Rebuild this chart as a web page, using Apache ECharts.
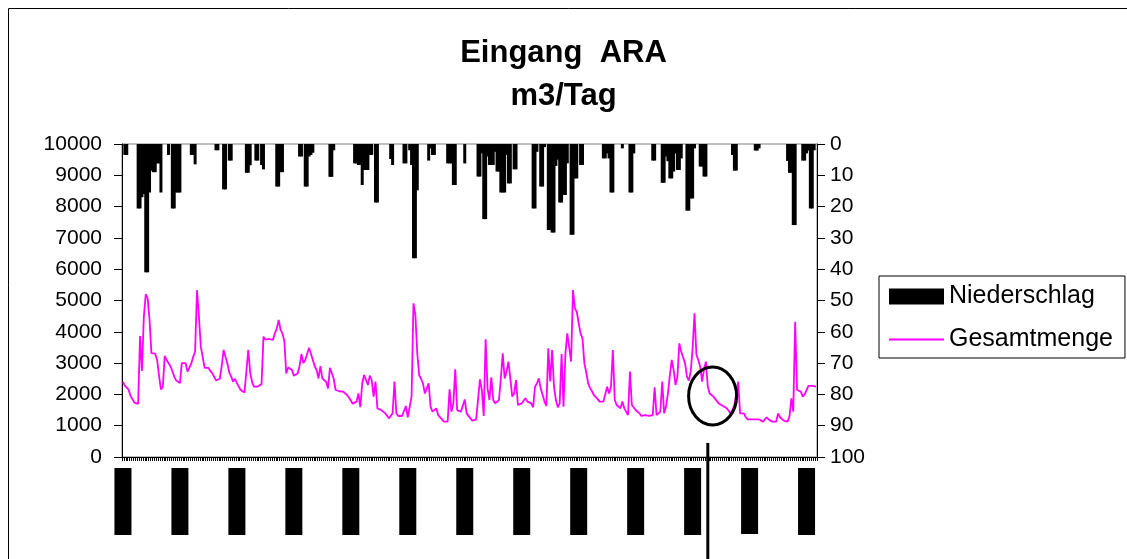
<!DOCTYPE html>
<html>
<head>
<meta charset="utf-8">
<script src="https://cdn.jsdelivr.net/npm/echarts@6/dist/echarts.min.js"></script>
<style>
html,body{margin:0;padding:0;background:#fff;}
#c{width:1127px;height:559px;}
</style>
</head>
<body>
<div id="c"></div>
<script>
// ---- data ----
var titleText = 'Eingang  ARA\nm3/Tag';
var seriesNames = ['Niederschlag', 'Gesamtmenge'];
var startDate = [2004, 0, 1];
var dayCount = 366;
var leftTicks = [0, 10000, 1000];
var rightTicks = [0, 100, 10];

var gesamtmenge = [
2400,2280,2300,2150,1950,1850,1740,1700,1700,3865,
2750,4480,5200,5070,4380,3320,3320,3300,3100,2600,
2160,2240,3230,3100,3000,2900,2750,2570,2450,2410,
2360,3000,3050,3000,2730,2730,2990,3200,3370,5330,
4500,3525,3200,2850,2790,2850,2750,2680,2570,2450,
2410,2500,2900,3420,3200,2990,2700,2570,2410,2500,
2360,2250,2140,2100,2060,2040,3420,2700,2400,2250,
2250,2250,2300,2330,3845,3750,3770,3770,3740,3740,
3950,4100,4380,4060,3950,3700,2670,2860,2820,2780,
2600,2545,2670,2900,3290,3000,3100,3130,3490,3300,
3100,2900,2780,2510,2900,2510,2540,2400,2190,2850,
2850,2500,2140,2110,2100,2090,2090,2050,1980,1900,
1850,1700,1660,1770,2030,1590,2350,2620,2650,2300,
2600,2460,1930,2410,1555,1540,1500,1480,1400,1330,
1235,1180,1395,2410,1395,1310,1310,1310,1310,1630,
1270,1310,1930,4910,4540,3300,2620,2500,2350,2030,
2200,2350,1610,1450,1395,1555,1340,1320,1200,1130,
1130,1130,2160,1450,1715,2800,1500,1450,1450,1450,
1840,1395,1340,1235,1160,1180,1200,1200,2480,2140,
1310,3760,2200,1820,2545,1820,1715,1750,1820,2500,
3310,2510,2720,3045,2510,1930,2030,2460,1660,1630,
1715,1800,1875,1770,1735,1715,1590,2245,2350,2510,
2195,2160,1770,1630,3470,2410,3420,2245,1820,1590,
1715,3290,1610,3300,3950,3900,3050,5335,4750,4640,
4270,3950,3790,2990,2700,2350,2200,2100,1980,1930,
1850,1770,1770,1770,1735,2245,2030,2245,3420,1820,
1660,1600,1555,1770,1555,1450,1340,2730,1660,1580,
1500,1450,1395,1310,1320,1340,1320,1310,1290,1340,
2225,1340,1290,1450,2410,1395,1610,2030,2600,3100,
2780,2300,2570,3630,3365,3365,3000,2570,2440,2730,
3470,4590,3260,3100,2885,2410,2800,3045,2245,2030,
1980,1930,1850,1770,1700,1660,1630,1610,1555,1555,
1395,1500,1660,1610,2410,1395,1415,1395,1270,1200,
1160,1200,1160,1200,1160,1200,1160,1130,1075,1270,
1200,1180,1130,1130,1130,1395,1270,1270,1160,1130,
1130,1290,1875,1450,4320,2140,2090,2090,1930,2000,
2140,2270,2270,2270,2270,2245
];

var niederschlag = [
0,3.5,3.5,0,0,0,0,0,20.6,20.6,
17,16,41,41,15.5,8.5,9,9,6.2,6.2,
15.5,0,0,0,3.5,0,20.6,20.6,15.5,15.5,
15.5,0,0,0,0,0,3.5,3.5,6.5,0,
0,0,0,0,0,0,0,0,0,2,
2,0,0,14.5,14.5,0,5.3,5.3,0,0,
0,0,0,0,0,9.2,9.2,6.8,0,0,
5.3,5.3,0,6.7,8.1,0,0,0,0,0,
0,13.6,13.6,9,9,0,0,0,0,0,
0,0,0,4,4,0,13.6,13.6,4,3.5,
2.8,0,0,0,0,0,0,0,0,10.5,
10.5,2,0,0,0,0,0,0,0,0,
0,0,6.2,6.2,6.7,6.7,13.1,8.3,8.3,8.3,
3.5,3.5,0,18.7,18.7,0,0,0,0,0,
0,4.8,6.7,0,0,0,0,0,6.2,6.2,
0,2,6.7,36.5,36.5,14.8,0,0,0,0,
0,5.3,1.4,3.5,3.5,0,0,0,0,0,
0,6.2,6.2,6.2,13.1,13.1,0,0,0,0,
6.2,0,0,0,0,0,0,10.4,10.4,3,
24,24,4,6.7,6.7,6.7,2.5,8.8,8.8,15.5,
15.5,15.5,3.5,12.6,12.6,0,8.1,8.1,0,0,
0,0,0,0,0,0,20.6,20.6,2.5,0,
13.6,13.6,1,0,27.5,27.5,28.3,28.3,7,5,
18.7,18.7,16.3,16.3,6.2,0,29,29,11,11,
0,6.7,6.7,0,0,0,0,0,0,0,
0,0,0,4.6,4.6,3,4.6,15.5,15.5,0,
0,0,0,1.4,0,0,0,15.5,15.5,3,
0,0,0,0,0,0,0,0,0,5.3,
5.3,0,0,0,12.4,12.4,4,5.5,11,11,
8.8,3,8.3,8.3,4.6,0,0,21.3,21.3,17.4,
17.4,1.4,0,0,7.2,7.2,10.4,10.4,0,0,
0,0,0,0,0,0,0,0,0,0,
0,3.5,8.5,8.5,0,0,0,0,0,0,
0,0,0,2.1,2.1,1.4,0,0,0,0,
0,0,0,0,0,0,0,0,0,0,
5.4,9.2,9.2,25.9,25.9,0,0,0,5.3,5.3,
3,2.1,20.6,20.6,2,0
];

// annotation anchors (category index, value)
var circleAnchor = [310, 1950];
var markerLineIndex = 308;

// ---- build categories ----
function pad(n){return (n<10?'0':'')+n;}
var categories = [];
for (var i = 0; i < dayCount; i++) {
  var d = new Date(startDate[0], startDate[1], startDate[2] + i);
  categories.push(pad(d.getDate()) + '.' + pad(d.getMonth()+1) + '.' + d.getFullYear());
}

var FONT = '"Liberation Sans", Arial, sans-serif';
var chart = echarts.init(document.getElementById('c'), null, {renderer: 'canvas'});

var option = {
  animation: false,
  backgroundColor: '#fff',
  title: {
    text: titleText,
    left: 'center',
    top: 27,
    textStyle: {fontFamily: FONT, fontSize: 31, fontWeight: 'bold', color: '#000', lineHeight: 43}
  },
  legend: {
    orient: 'vertical',
    left: 879,
    top: 276,
    padding: [8, 12, 6, 9],
    itemGap: 18,
    itemWidth: 55,
    itemHeight: 16,
    borderColor: '#000',
    borderWidth: 1,
    textStyle: {fontFamily: FONT, fontSize: 25, color: '#000'},
    data: [
      {name: seriesNames[0], icon: 'rect'},
      {name: seriesNames[1], itemStyle: {opacity: 0}}
    ]
  },
  grid: {
    left: 122, right: 310, top: 144, bottom: 102,
    show: true, borderColor: '#808080', borderWidth: 1, backgroundColor: 'transparent'
  },
  xAxis: {
    type: 'category',
    data: categories,
    boundaryGap: true,
    axisLine: {lineStyle: {color: '#000', width: 1}},
    axisTick: {show: true, interval: 0, length: 4, lineStyle: {color: '#000', width: 1}},
    axisLabel: {
      interval: 29,
      rotate: 90,
      margin: 11,
      fontFamily: FONT,
      fontSize: 13,
      color: '#000',
      backgroundColor: '#000',
      padding: [2, 1]
    },
    splitLine: {show: false}
  },
  yAxis: [
    {
      type: 'value',
      min: leftTicks[0], max: leftTicks[1], interval: leftTicks[2],
      axisLine: {show: true, lineStyle: {color: '#000'}},
      axisTick: {show: true, length: 8, lineStyle: {color: '#000'}},
      axisLabel: {fontFamily: FONT, fontSize: 21, color: '#000', margin: 20,
        formatter: function (v) { return String(v); }},
      splitLine: {show: false}
    },
    {
      type: 'value',
      position: 'right',
      inverse: true,
      min: rightTicks[0], max: rightTicks[1], interval: rightTicks[2],
      axisLine: {show: true, lineStyle: {color: '#000'}},
      axisTick: {show: true, length: 8, lineStyle: {color: '#000'}},
      axisLabel: {fontFamily: FONT, fontSize: 21, color: '#000', margin: 13,
        formatter: function (v) { return String(v); }},
      splitLine: {show: false}
    }
  ],
  series: [
    {
      name: seriesNames[0],
      type: 'bar',
      yAxisIndex: 1,
      data: niederschlag,
      barWidth: 3,
      barCategoryGap: '0%',
      itemStyle: {color: '#000'}
    },
    {
      name: seriesNames[1],
      type: 'line',
      yAxisIndex: 0,
      data: gesamtmenge,
      symbol: 'none',
      showSymbol: false,
      lineStyle: {color: '#FF00FF', width: 1.8},
      itemStyle: {color: '#FF00FF'},
      z: 3
    }
  ]
};
chart.setOption(option);

// annotations anchored to data coordinates
var cpt = chart.convertToPixel({xAxisIndex: 0, yAxisIndex: 0}, circleAnchor);
var lpt = chart.convertToPixel({xAxisIndex: 0, yAxisIndex: 0}, [markerLineIndex, 450]);
chart.setOption({
  graphic: [
    {type: 'rect', shape: {x: 8.5, y: 8.5, width: 1200, height: 600}, style: {fill: 'none', stroke: '#000', lineWidth: 1}, silent: true, z: 100},
    {type: 'ellipse', shape: {cx: cpt[0] + 1, cy: cpt[1], rx: 24, ry: 29}, style: {fill: 'none', stroke: '#000', lineWidth: 3}, z: 100},
    {type: 'line', shape: {x1: lpt[0], y1: lpt[1], x2: lpt[0], y2: 560}, style: {stroke: '#000', lineWidth: 3}, z: 100}
  ]
});
</script>
</body>
</html>
